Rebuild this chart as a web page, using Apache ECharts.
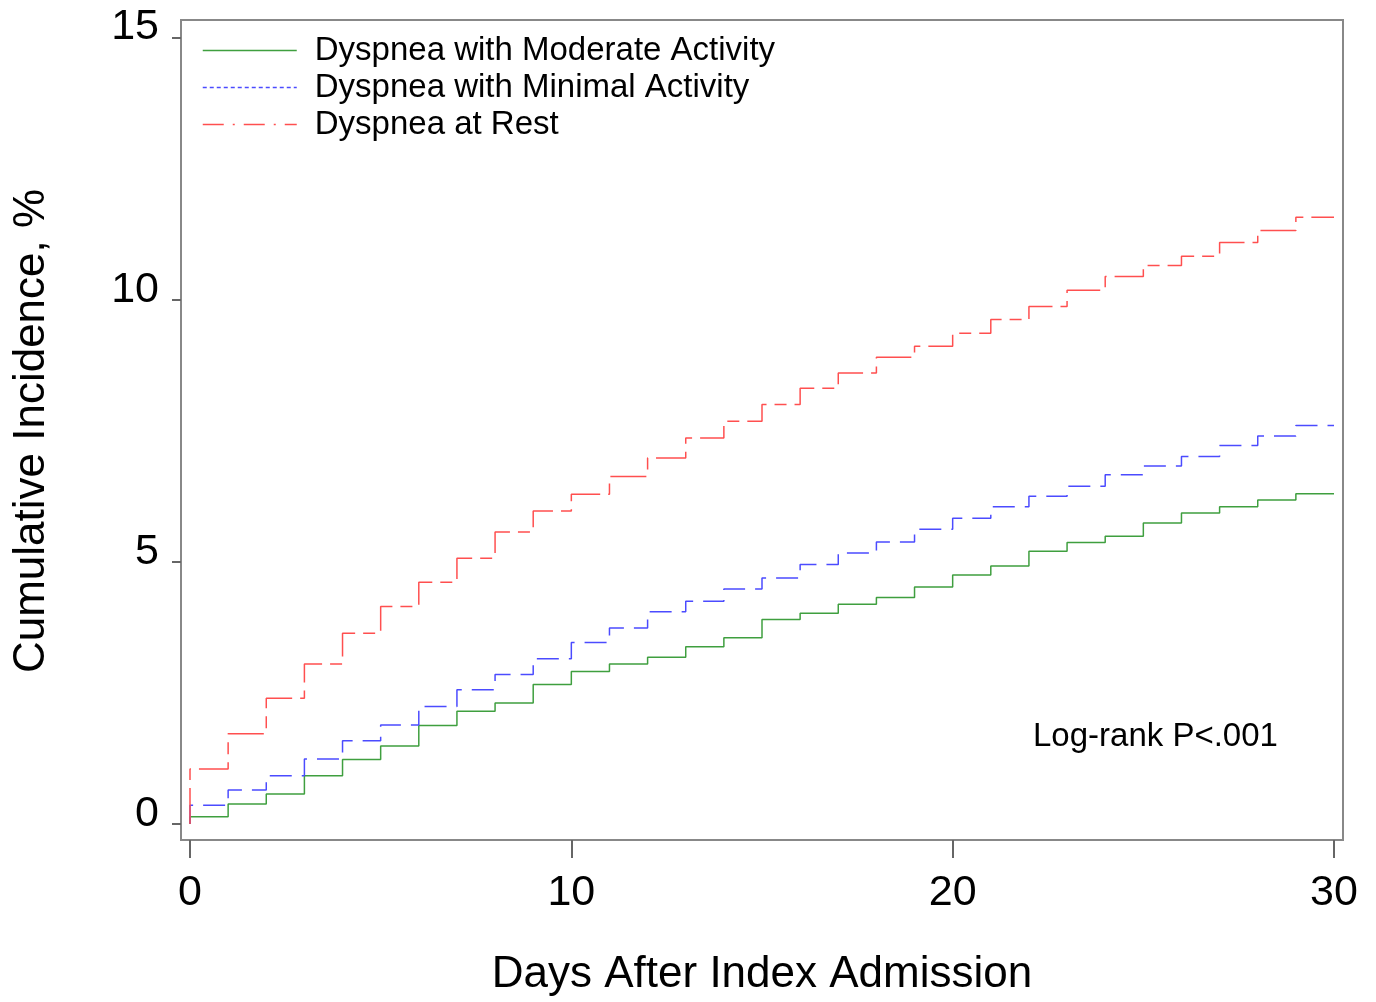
<!DOCTYPE html>
<html>
<head>
<meta charset="utf-8">
<title>Cumulative incidence by dyspnea class</title>
<script src="https://cdn.jsdelivr.net/npm/echarts@6.0.0/dist/echarts.min.js"></script>
<style>
  html, body { margin: 0; padding: 0; background: #fff; }
  #chart { width: 1376px; height: 1002px; }
</style>
</head>
<body>
<div id="chart"></div>
<script>
// day boundaries; level i holds from days[i] to days[i+1]
const days = [0, 1, 2, 3, 4, 5, 6, 7, 8, 9, 10, 11, 12, 13, 14, 15, 16, 17, 18, 19, 20,
  21, 22, 23, 24, 25, 26, 27, 28, 29, 30]

const moderate = [0.14, 0.38, 0.57, 0.92, 1.23, 1.49, 1.88, 2.15, 2.31, 2.66, 2.91, 3.05, 3.18, 3.38, 3.55,
  3.90, 4.02, 4.19, 4.32, 4.52, 4.75, 4.92, 5.20, 5.37, 5.49, 5.74, 5.93, 6.05, 6.18, 6.30]
const minimal = [0.36, 0.65, 0.92, 1.24, 1.59, 1.89, 2.24, 2.56, 2.85, 3.15, 3.46, 3.74, 4.05, 4.25, 4.48,
  4.69, 4.95, 5.17, 5.38, 5.62, 5.83, 6.05, 6.25, 6.44, 6.66, 6.83, 7.01, 7.22, 7.40, 7.60]
const atRest = [1.05, 1.72, 2.40, 3.05, 3.64, 4.15, 4.61, 5.07, 5.57, 5.97, 6.29, 6.63, 6.98, 7.36, 7.68,
  8.00, 8.31, 8.60, 8.90, 9.11, 9.36, 9.62, 9.87, 10.18, 10.44, 10.65, 10.83, 11.09, 11.32, 11.57]

const seriesNames = ['Dyspnea with Moderate Activity', 'Dyspnea with Minimal Activity', 'Dyspnea at Rest']
const xTicks = [0, 10, 20, 30]
const yTicks = [0, 5, 10, 15]

const FONT = '"Liberation Sans", Arial, Helvetica, sans-serif'

// step curve points: start at 0, then each level, last level held to the end
const toSteps = (levels) => {
  const pts = [[days[0], 0]]
  for (let i = 0; i < levels.length; i++) {
    pts.push([days[i], levels[i]])
  }
  pts.push([days[days.length - 1], levels[levels.length - 1]])
  return pts
}

const chart = echarts.init(document.getElementById('chart'))

const lineSeries = (name, levels, color, dash) => ({
  name: name,
  type: 'line',
  step: 'end',
  symbol: 'none',
  animation: false,
  lineStyle: { color: color, width: 1.5, type: dash },
  itemStyle: { color: color },
  data: toSteps(levels)
})

chart.setOption({
  backgroundColor: '#fff',
  animation: false,
  grid: {
    left: 181,
    top: 20,
    right: 33,
    bottom: 162,
    show: true,
    borderColor: '#888',
    borderWidth: 2,
    backgroundColor: 'transparent'
  },
  legend: {
    orient: 'vertical',
    left: 202,
    top: 32,
    padding: 0,
    itemWidth: 94,
    itemHeight: 14,
    itemGap: 0,
    selectedMode: false,
    itemStyle: { opacity: 0 },
    textStyle: {
      fontFamily: FONT,
      fontSize: 33,
      lineHeight: 37,
      color: '#000',
      padding: [0, 0, 0, 13]
    },
    data: [
      { name: seriesNames[0], lineStyle: { type: 'solid', width: 1.5 } },
      { name: seriesNames[1], lineStyle: { type: [4, 3], width: 1.5 } },
      { name: seriesNames[2], lineStyle: { type: [21, 9, 2, 9], width: 1.5 } }
    ]
  },
  xAxis: {
    type: 'value',
    min: -0.236,
    max: 30.236,
    splitLine: { show: false },
    axisLine: { show: false, onZero: false },
    axisTick: {
      show: true,
      inside: false,
      length: 18,
      customValues: xTicks,
      lineStyle: { color: '#666', width: 2 }
    },
    axisLabel: {
      customValues: xTicks,
      margin: 32,
      fontFamily: FONT,
      fontSize: 43,
      color: '#000'
    }
  },
  yAxis: {
    type: 'value',
    min: -0.305,
    max: 15.334,
    splitLine: { show: false },
    axisLine: { show: false, onZero: false },
    axisTick: {
      show: true,
      inside: false,
      length: 9,
      customValues: yTicks,
      lineStyle: { color: '#666', width: 2 }
    },
    axisLabel: {
      customValues: yTicks,
      margin: 22,
      fontFamily: FONT,
      fontSize: 43,
      color: '#000',
      verticalAlign: 'bottom',
      lineHeight: 20
    }
  },
  graphic: [
    {
      type: 'text',
      x: 32,
      y: 431,
      rotation: Math.PI / 2,
      style: {
        text: 'Cumulative Incidence, %',
        font: '44px ' + FONT,
        fill: '#000',
        textAlign: 'center',
        textVerticalAlign: 'middle'
      }
    },
    {
      type: 'text',
      x: 762,
      y: 975,
      style: {
        text: 'Days After Index Admission',
        font: '44px ' + FONT,
        fill: '#000',
        textAlign: 'center',
        textVerticalAlign: 'middle'
      }
    },
    {
      type: 'text',
      x: 1033,
      y: 737,
      style: {
        text: 'Log-rank P<.001',
        font: '33px ' + FONT,
        fill: '#000',
        textAlign: 'left',
        textVerticalAlign: 'middle'
      }
    }
  ],
  series: [
    lineSeries(seriesNames[0], moderate, '#3f9f3f', 'solid'),
    lineSeries(seriesNames[1], minimal, '#4b4bff', [22, 10]),
    lineSeries(seriesNames[2], atRest, '#ff4f4f', [36, 8, 12, 8])
  ]
})
</script>
</body>
</html>
